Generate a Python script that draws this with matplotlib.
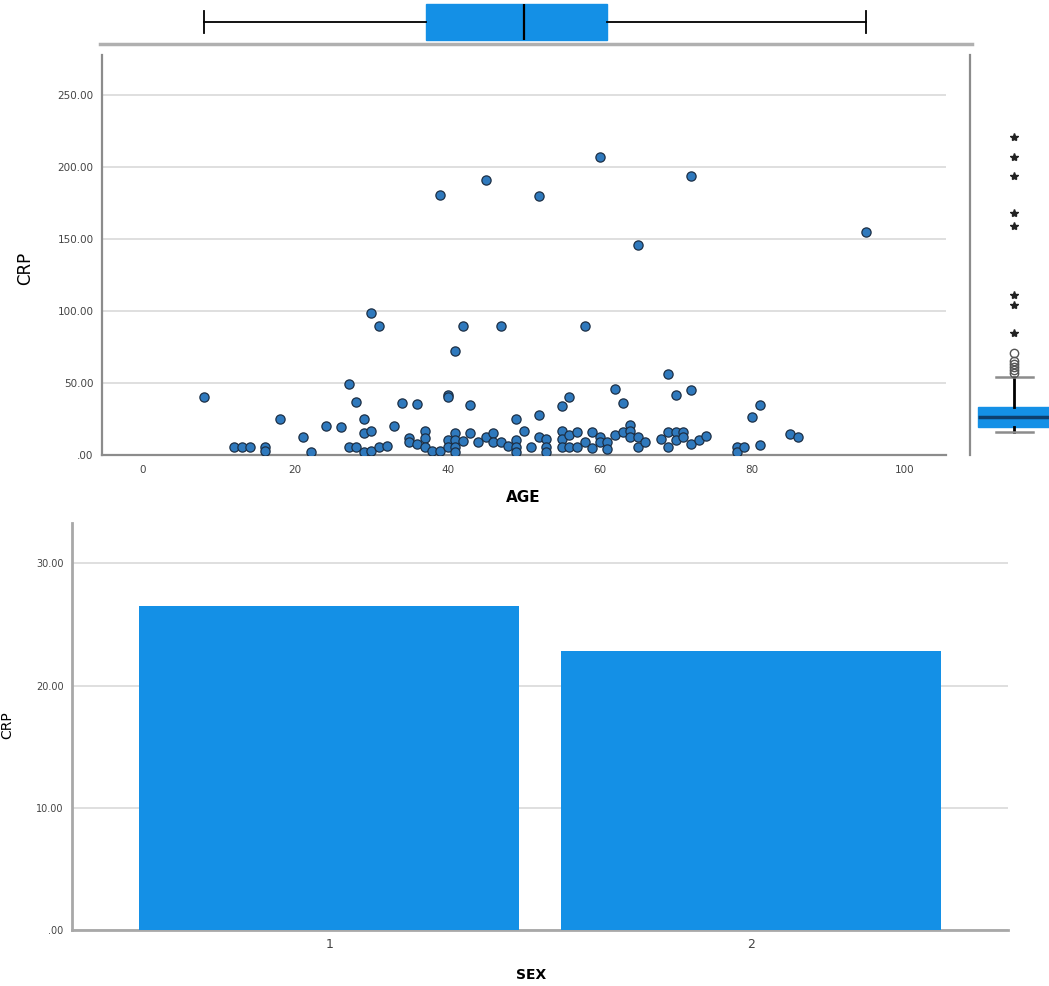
import matplotlib
matplotlib.use("Agg")
import matplotlib.pyplot as plt
from matplotlib.ticker import FuncFormatter

# scatter data (AGE, CRP)
age = [8, 30, 31, 39, 41, 42, 45, 47, 52, 58, 60, 65, 72, 95,
       12, 13, 14, 16, 16, 18, 21, 22, 24, 26, 27, 27, 28, 28, 29, 29, 29,
       30, 30, 31, 32, 33, 34, 35, 35, 36, 36, 37, 37, 37, 38, 39,
       40, 40, 40, 40, 41, 41, 41, 41, 42, 43, 43, 44, 45, 46, 46, 47, 48,
       49, 49, 49, 49, 50, 51, 52, 52, 53, 53, 53, 55, 55, 55, 55,
       56, 56, 56, 57, 57, 58, 59, 59, 60, 60, 61, 61, 62, 62, 63, 63,
       64, 64, 64, 65, 65, 66, 68, 69, 69, 69, 70, 70, 70, 71, 71,
       72, 72, 73, 74, 78, 78, 79, 80, 81, 81, 85, 86]
crp = [40, 99, 90, 181, 72, 90, 191, 90, 180, 90, 207, 146, 194, 155,
       5.5, 5.5, 5.5, 5.5, 3, 25, 12.5, 2, 20, 19.5, 49, 5.5, 37, 5.5, 25, 15, 2,
       17, 2.5, 5.5, 6.5, 20, 36, 12, 9, 35.5, 7.5, 17, 12, 5.5, 3, 3,
       42, 40, 10.5, 5.5, 15, 10.5, 5.5, 2, 10, 35, 15, 9, 12.5, 15, 9, 9, 6,
       25, 10.5, 5.5, 2, 17, 5.5, 28, 12.5, 11, 5.5, 2, 34, 17, 11, 5.5,
       40, 14, 5.5, 16, 5.5, 9, 16, 5, 12.5, 9, 9, 4, 46, 14, 36, 16,
       21, 17, 12.5, 12.5, 5.5, 9, 11, 56, 16, 5.5, 42, 16, 10.5, 16, 12.5,
       45, 7.5, 10.5, 13, 5.5, 2, 5.5, 26.5, 35, 7, 14.5, 12.5]

# marginal box of AGE (top)
age_box = dict(whislo=8, q1=37.2, med=50.1, q3=61.0, whishi=95, fliers=[])
# marginal box of CRP (right)
crp_box = dict(whislo=16.2, q1=19.7, med=26.6, q3=33.6, whishi=54.1, fliers=[])
crp_circles = [57, 59, 61, 63, 65, 71]
crp_stars = [85, 104, 111, 159, 168, 194, 207, 221]

# bar chart
sex = ["1", "2"]
mean_crp = [26.5, 22.8]

blue = "#1490e6"
grey = "#8c8c8c"
gridc = "#d9d9d9"


def fmt(v, pos):
    s = "%.2f" % v
    return s[1:] if s.startswith("0") else s


fig = plt.figure(figsize=(10.49, 9.86), dpi=100)

# scatter
ax = fig.add_axes([102 / 1049, 1 - 455 / 986, 844 / 1049, 400 / 986])
ax.scatter(age, crp, s=44, facecolor="#2f79bd", edgecolor="#1c2f45", linewidth=0.9, zorder=3)
ax.set_xlim(-5.4, 105.5)
ax.set_ylim(0, 278)
ax.set_xticks([0, 20, 40, 60, 80, 100])
ax.set_yticks([0, 50, 100, 150, 200, 250])
ax.yaxis.set_major_formatter(FuncFormatter(fmt))
ax.grid(axis="y", color=gridc, linewidth=1.2)
ax.set_axisbelow(True)
for side in ["top", "right"]:
    ax.spines[side].set_visible(False)
for side in ["left", "bottom"]:
    ax.spines[side].set_color(grey)
    ax.spines[side].set_linewidth(1.6)
ax.tick_params(axis="y", length=0, labelsize=7.5, labelcolor="#444444", pad=6)
ax.tick_params(axis="x", length=0, labelsize=7.5, labelcolor="#444444", pad=7)

# top box (AGE)
axt = fig.add_axes([100 / 1049, 1 - 44 / 986, 872 / 1049, 44 / 986])
axt.bxp([age_box], positions=[0.5], widths=0.8, capwidths=0.48, orientation="horizontal",
        patch_artist=True, showfliers=False,
        boxprops=dict(facecolor=blue, edgecolor=blue),
        medianprops=dict(color="black", linewidth=1.6),
        whiskerprops=dict(color="black", linewidth=1.3),
        capprops=dict(color="black", linewidth=1.3))
axt.set_xlim(-5.65, 108.9)
axt.set_ylim(0, 1)
axt.set_xticks([])
axt.set_yticks([])
for side in ["top", "right", "left"]:
    axt.spines[side].set_visible(False)
axt.spines["bottom"].set_color("#b0b0b0")
axt.spines["bottom"].set_linewidth(2.5)

# right box (CRP)
axr = fig.add_axes([970 / 1049, 1 - 455 / 986, 79 / 1049, 400 / 986])
axr.bxp([crp_box], positions=[44], widths=72, capwidths=37,
        patch_artist=True, showfliers=False,
        boxprops=dict(facecolor=blue, edgecolor=blue),
        medianprops=dict(color="#0d3f6e", linewidth=2.5),
        whiskerprops=dict(color="black", linewidth=2),
        capprops=dict(color=grey, linewidth=1.8))
axr.plot([44] * len(crp_circles), crp_circles, "o", mfc="none", mec="#555555", ms=6, mew=1)
axr.plot([44] * len(crp_stars), crp_stars, "*", color="#222222", ms=6)
axr.set_xlim(0, 79)
axr.set_ylim(0, 278)
axr.set_xticks([])
axr.set_yticks([])
for side in ["top", "right", "bottom"]:
    axr.spines[side].set_visible(False)
axr.spines["left"].set_color(grey)
axr.spines["left"].set_linewidth(1.6)

fig.text(25 / 1049, 1 - 268 / 986, "CRP", rotation=90, ha="center", va="center", fontsize=12)
fig.text(523 / 1049, 1 - 498 / 986, "AGE", ha="center", va="center", fontsize=11, fontweight="bold")

# bar chart
axb = fig.add_axes([72 / 1049, 1 - 930 / 986, 936 / 1049, 407 / 986])
axb.bar(range(len(sex)), mean_crp, width=0.9, color=blue, zorder=3)
axb.set_xlim(-0.61, 1.61)
axb.set_ylim(0, 33.3)
axb.set_xticks(range(len(sex)))
axb.set_xticklabels(sex)
axb.set_yticks([0, 10, 20, 30])
axb.yaxis.set_major_formatter(FuncFormatter(fmt))
axb.grid(axis="y", color=gridc, linewidth=1.2)
axb.set_axisbelow(True)
for side in ["top", "right"]:
    axb.spines[side].set_visible(False)
for side in ["left", "bottom"]:
    axb.spines[side].set_color("#a8a8a8")
    axb.spines[side].set_linewidth(2)
axb.tick_params(axis="y", length=0, labelsize=7, labelcolor="#444444", pad=6)
axb.tick_params(axis="x", length=0, labelsize=9, labelcolor="#444444", pad=6)

fig.text(7 / 1049, 1 - 725 / 986, "CRP", rotation=90, ha="center", va="center", fontsize=10)
fig.text(531 / 1049, 1 - 975 / 986, "SEX", ha="center", va="center", fontsize=10, fontweight="bold")

fig.savefig("out.png", dpi=100)
